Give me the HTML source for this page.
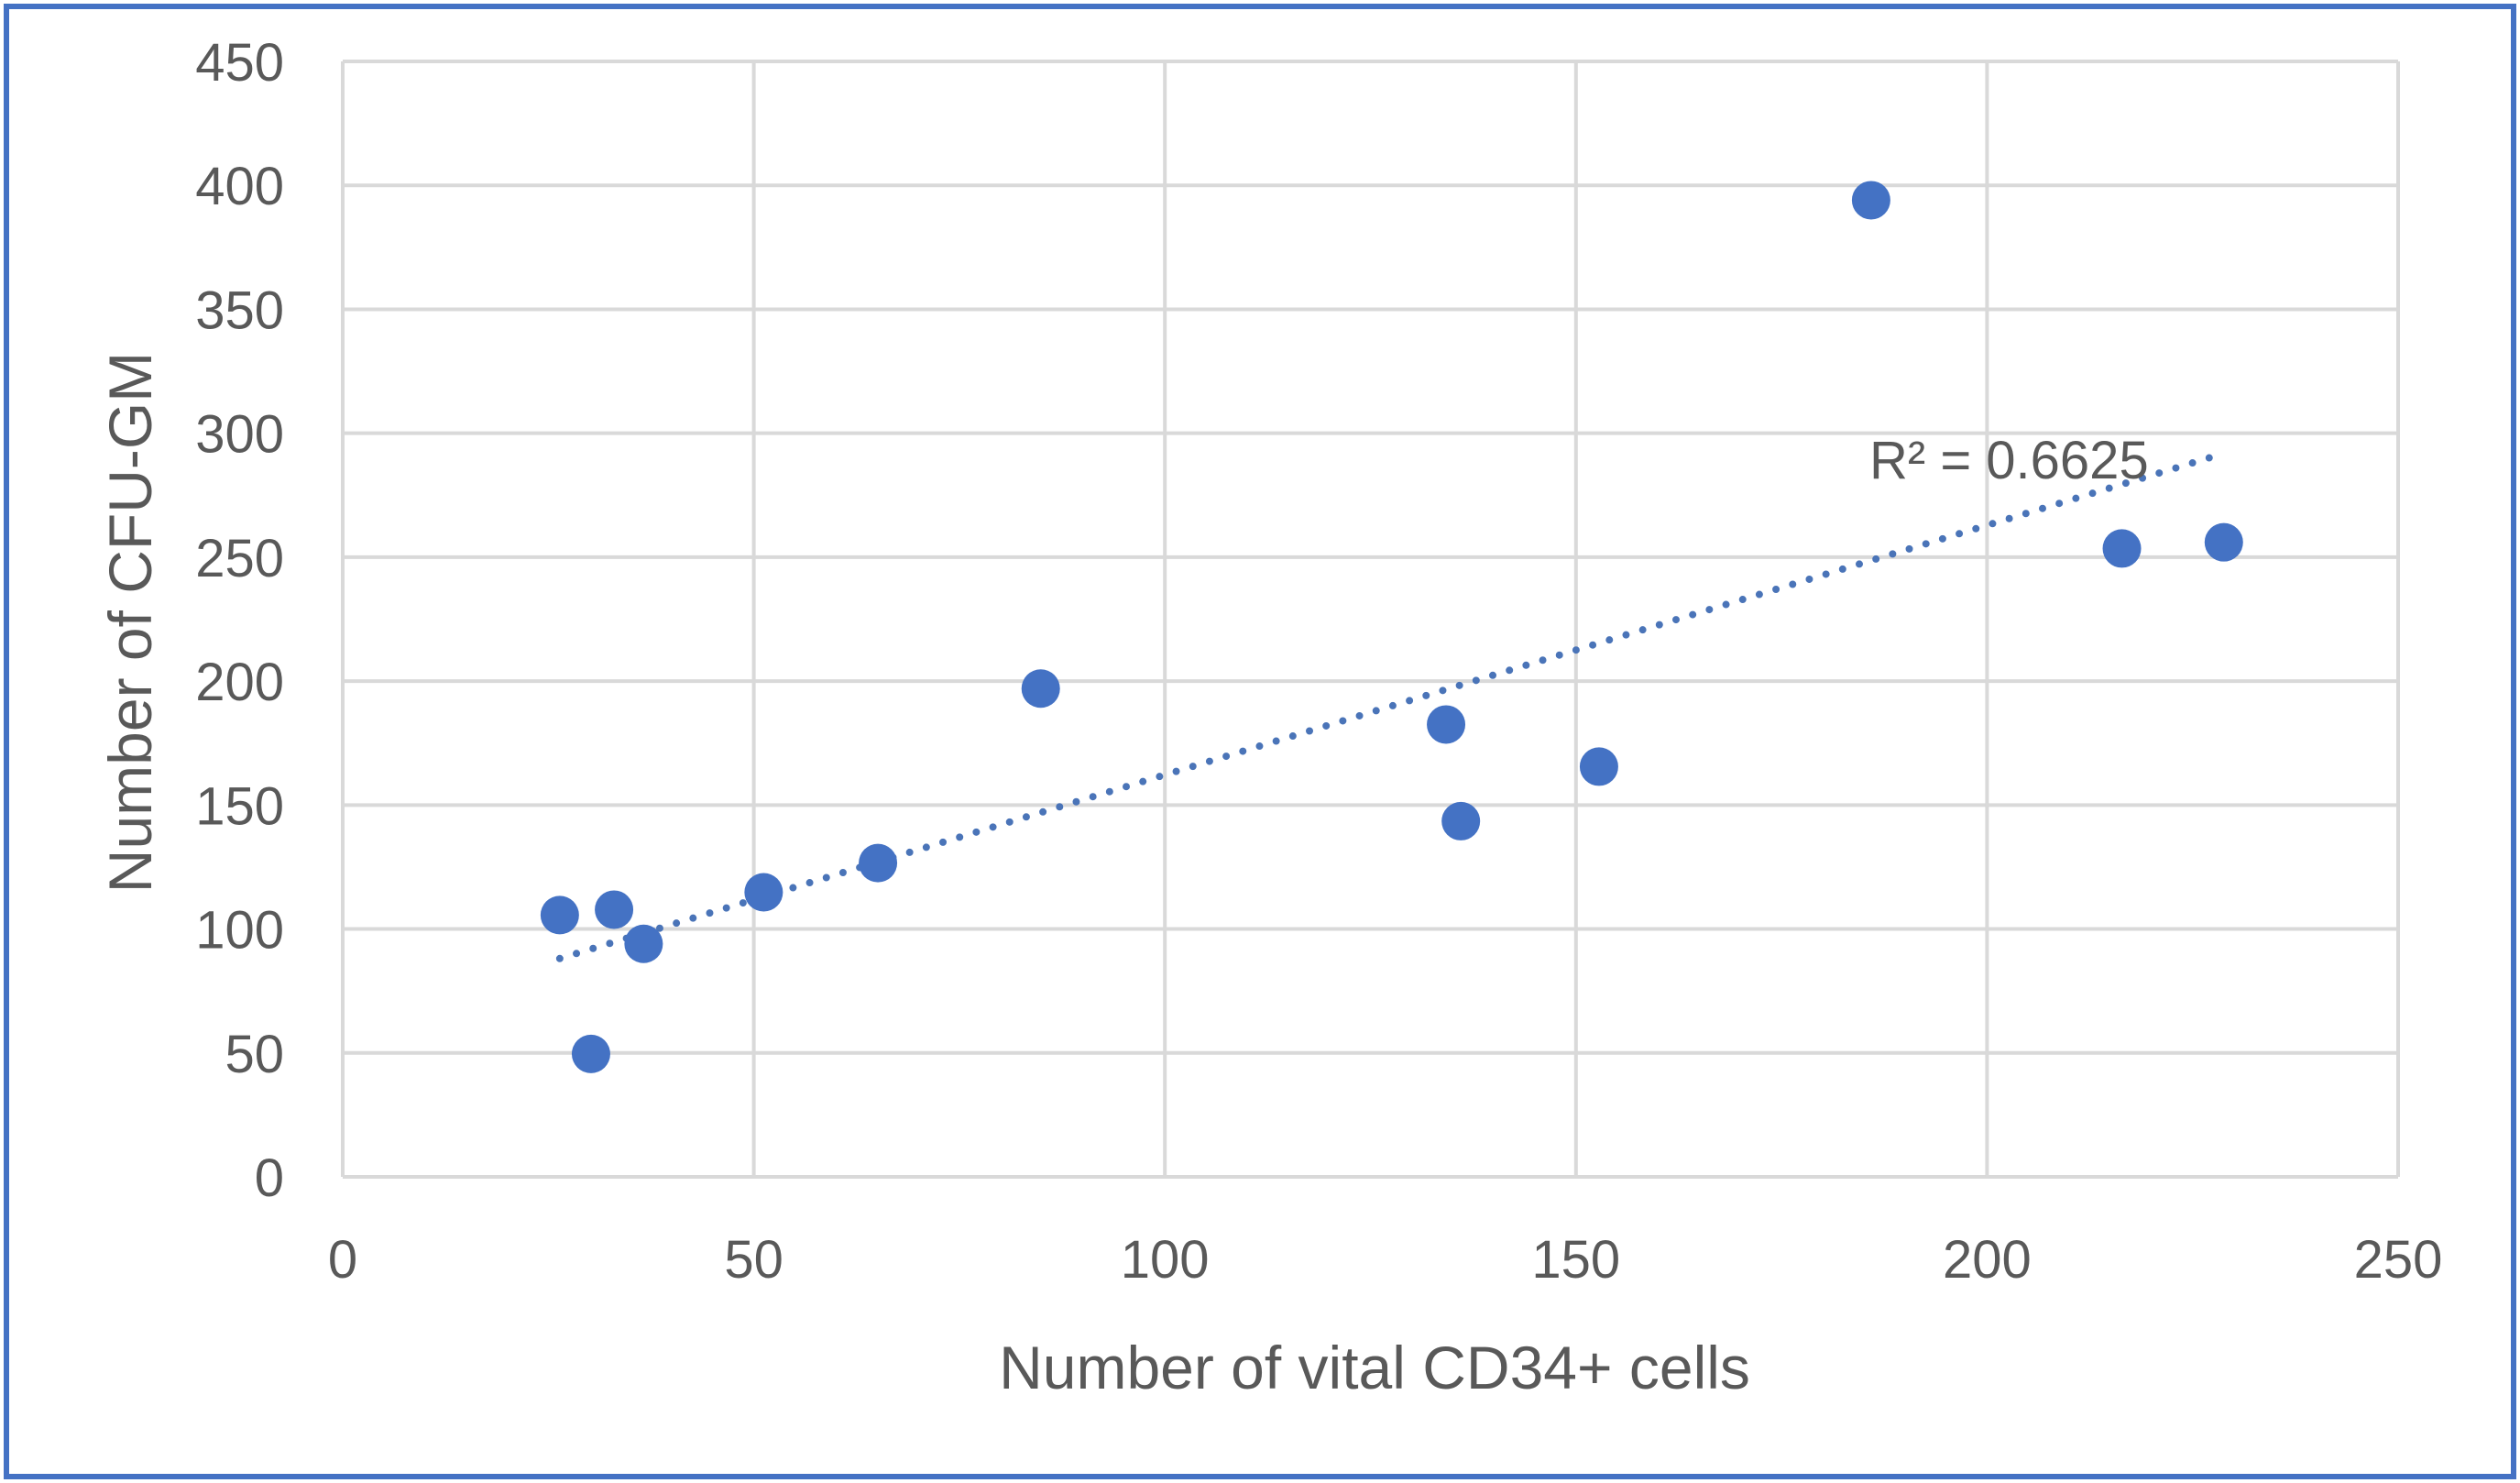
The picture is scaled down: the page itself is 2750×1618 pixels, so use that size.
<!DOCTYPE html>
<html><head><meta charset="utf-8"><style>
html,body{margin:0;padding:0;background:#fff}
svg{display:block}
text{font-family:"Liberation Sans",sans-serif;fill:#595959}
</style></head><body>
<svg id="chart" width="2750" height="1618" viewBox="0 0 2750 1618" xmlns="http://www.w3.org/2000/svg">
<rect x="7" y="7" width="2736" height="1604" fill="#fff" stroke="#4472c4" stroke-width="6"/>
<g id="grid"></g>
<g id="trend"></g>
<g id="points"></g>
<g id="labels"></g>
<text x="2040" y="522" font-size="58">R² = 0.6625</text>
<text x="1500" y="1515" font-size="66" text-anchor="middle">Number of vital CD34+ cells</text>
<text transform="translate(165,679) rotate(-90)" font-size="66" text-anchor="middle">Number of CFU-GM</text>
</svg>
<script>
const xVals=[26.4,33.0,36.6,30.2,51.2,65.1,84.9,134.2,136.0,152.8,185.9,216.4,228.8];
const yVals=[105.6,107.8,94,49.6,114.8,126.6,197,182.5,143.5,165.5,394,253.5,256];
const xTicks=[0,50,100,150,200,250];
const yTicks=[0,50,100,150,200,250,300,350,400,450];
const NS="http://www.w3.org/2000/svg";
const X0=374,X1=2617,Y0=1284,Y1=67;
const xs=v=>X0+(v-0)/(250-0)*(X1-X0);
const ys=v=>Y0-(v-0)/(450-0)*(Y0-Y1);
function mk(t,a,p){const e=document.createElementNS(NS,t);for(const k in a)e.setAttribute(k,a[k]);p.appendChild(e);return e;}
const grid=document.getElementById('grid'),labels=document.getElementById('labels');
yTicks.forEach(v=>{
 const l=mk('line',{x1:X0,x2:X1,y1:ys(v),y2:ys(v),stroke:'#d9d9d9','stroke-width':4},grid);
 
 
 const t=mk('text',{x:310,y:ys(v)+21,'font-size':58,'text-anchor':'end'},labels);
 t.textContent=v;
 
 
});
xTicks.forEach(v=>{
 const l=mk('line',{x1:xs(v),x2:xs(v),y1:Y1,y2:Y0,stroke:'#d9d9d9','stroke-width':4},grid);
 
 
 const t=mk('text',{x:xs(v),y:1394,'font-size':58,'text-anchor':'middle'},labels);
 t.textContent=v;
 
 
});
// linear regression trendline
const n=xVals.length;let sx=0,sy=0,sxx=0,sxy=0;
for(let i=0;i<n;i++){sx+=xVals[i];sy+=yVals[i];sxx+=xVals[i]*xVals[i];sxy+=xVals[i]*yVals[i];}
const b=(n*sxy-sx*sy)/(n*sxx-sx*sx),a=(sy-b*sx)/n;
const xmin=Math.min(...xVals),xmax=Math.max(...xVals);
const tl=mk('line',{x1:xs(xmin),y1:ys(a+b*xmin),x2:xs(xmax),y2:ys(a+b*xmax),stroke:'#4a74b8','stroke-width':8,'stroke-linecap':'round','stroke-dasharray':'0 19'},document.getElementById('trend'));


const pts=document.getElementById('points');
xVals.forEach((x,i)=>{
 const c=mk('circle',{cx:xs(x),cy:ys(yVals[i]),r:21,fill:'#4472c4'},pts);
 
 
});
</script>
</body></html>
